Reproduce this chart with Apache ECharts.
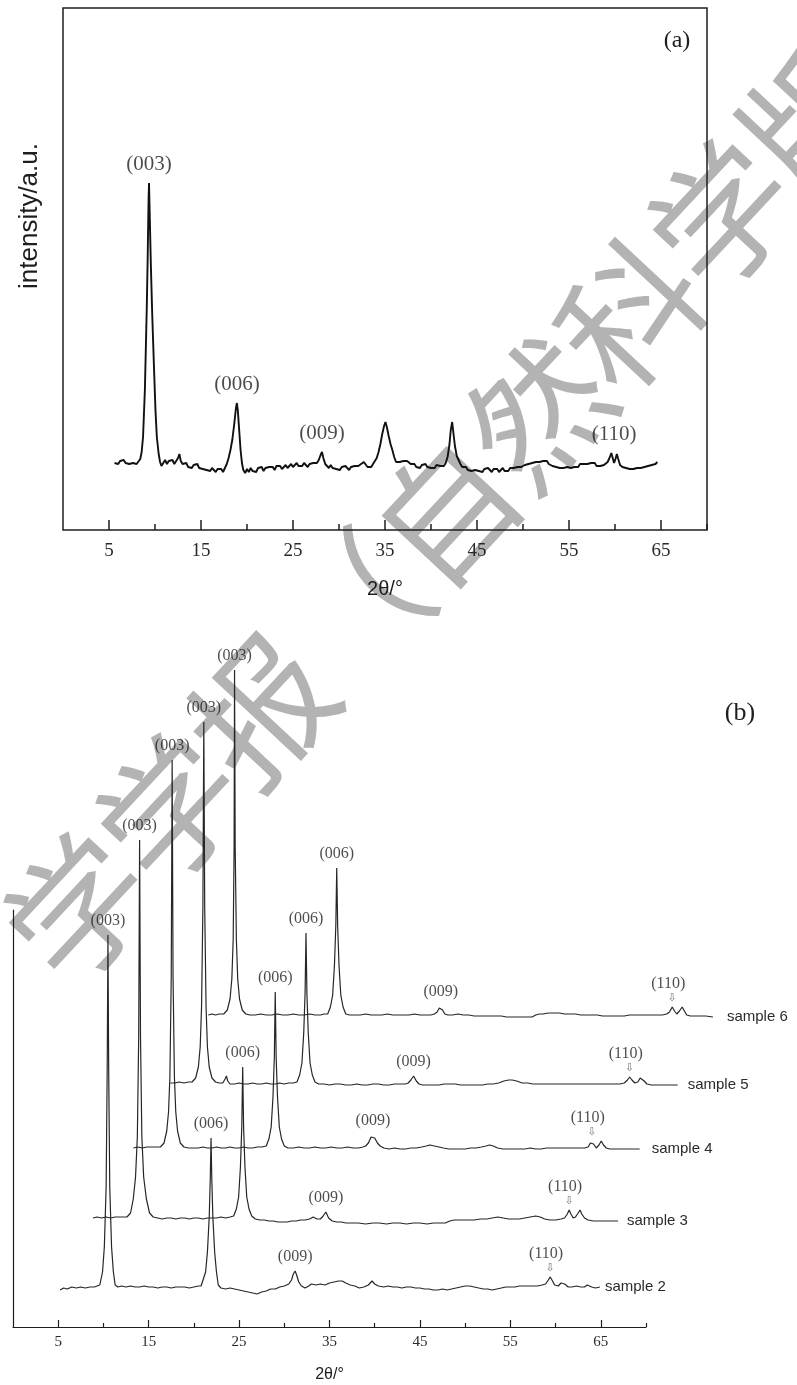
<!DOCTYPE html>
<html><head><meta charset="utf-8">
<script src="https://cdn.jsdelivr.net/npm/echarts@6/dist/echarts.min.js"></script>
<style>html,body{margin:0;padding:0;background:#fff}#c{width:797px;height:1385px}</style>
</head><body><div id="c"></div>
<script>
// ---------- tick labels ----------
const xTicksMajor = [5, 15, 25, 35, 45, 55, 65];
const xTicksMinor = [10, 20, 30, 40, 50, 60, 70];

// ---------- panel (a): single pattern [2θ, intensity a.u.] ----------
const patternA = [
[5.6,67],[5.8,69],[6.0,66],[6.2,69],[6.4,68],[6.6,70],[6.8,67],[7.0,69],[7.2,66],[7.4,68],[7.6,67],[7.8,69],[8.0,66],[8.2,68],[8.4,71],
[8.55,78],[8.7,93],[8.9,140],[9.1,220],[9.2,270],[9.3,330],[9.35,347],[9.42,318],[9.55,265],[9.7,215],[9.9,160],[10.05,120],[10.2,93],[10.4,76],[10.55,68],[10.7,64],
[10.9,67],[11.1,70],[11.3,66],[11.5,69],[11.7,67],[11.9,70],[12.1,66],[12.3,68],[12.5,72],[12.65,76],[12.8,69],[13.0,66],[13.2,64],[13.4,67],[13.6,63],[13.8,65],[14.0,62],[14.2,65],[14.4,63],[14.6,66],[14.8,62],[15.0,64],[15.2,61],[15.4,63],[15.6,60],[15.8,62],[16.0,59],[16.2,62],[16.4,60],[16.6,58],[16.8,61],[17.0,59],[17.2,61],[17.4,58],[17.6,62],[17.8,66],
[18.0,72],[18.2,80],[18.4,90],[18.6,105],[18.8,122],[18.9,127],[19.0,120],[19.15,100],[19.3,80],[19.45,67],[19.6,60],
[19.8,57],[20.0,61],[20.2,58],[20.4,62],[20.6,59],[20.8,61],[21.0,58],[21.2,62],[21.4,60],[21.6,63],[21.8,59],[22.0,62],[22.2,60],[22.4,63],[22.6,61],[22.8,63],[23.0,60],[23.2,64],[23.4,62],[23.6,64],[23.8,61],[24.0,63],[24.2,65],[24.4,62],[24.6,64],[24.8,66],[25.0,63],[25.2,65],[25.4,67],[25.6,64],[25.8,66],[26.0,64],[26.2,67],[26.4,65],[26.6,63],[26.8,66],[27.0,64],[27.2,67],[27.4,65],[27.6,67],[27.8,70],[28.0,75],[28.15,78],[28.3,72],[28.5,66],
[28.7,64],[28.9,62],[29.1,65],[29.3,62],[29.5,64],[29.7,61],[29.9,63],[30.1,60],[30.3,63],[30.5,61],[30.7,64],[30.9,62],[31.1,60],[31.3,63],[31.5,61],[31.7,64],[31.9,62],[32.1,64],[32.4,66],[32.7,68],[32.9,66],[33.1,63],[33.3,65],[33.5,63],[33.7,66],[33.9,68],[34.1,72],[34.3,78],[34.5,86],[34.7,96],[34.9,104],[35.05,108],[35.2,103],[35.4,94],[35.6,86],[35.8,80],[36.0,73],[36.2,68],
[36.4,66],[36.6,68],[36.8,66],[37.0,69],[37.2,67],[37.4,69],[37.6,68],[37.8,66],[38.0,64],[38.2,66],[38.4,63],[38.6,65],[38.8,62],[39.0,65],[39.2,63],[39.4,66],[39.6,63],[39.8,65],[40.0,62],[40.2,64],[40.4,62],[40.6,65],[40.8,63],[41.0,64],[41.2,62],[41.4,64],[41.6,67],[41.8,73],[42.0,85],[42.15,100],[42.3,108],[42.45,96],[42.6,84],[42.8,74],[43.0,70],[43.2,66],
[43.4,63],[43.6,61],[43.8,63],[44.0,60],[44.2,62],[44.4,59],[44.6,61],[44.8,60],[45.0,62],[45.2,59],[45.4,61],[45.6,58],[45.8,61],[46.0,59],[46.2,62],[46.4,60],[46.6,58],[46.8,61],[47.0,59],[47.2,61],[47.4,58],[47.6,60],[47.8,62],[48.0,59],[48.2,61],[48.4,59],[48.6,62],[48.8,60],[49.0,62],[49.2,60],[49.4,63],[49.6,61],[49.8,63],[50.0,62],[50.2,65],[50.4,63],[50.6,66],[50.8,64],[51.0,67],[51.2,65],[51.4,68],[51.6,66],[51.8,68],[52.0,66],[52.2,69],[52.4,67],[52.6,69],[52.8,66],[53.0,67],[53.2,64],[53.4,66],[53.6,63],[53.8,65],[54.0,62],[54.2,64],[54.4,62],[54.6,64],[54.8,63],[55.0,65],[55.2,62],[55.4,64],[55.6,63],[55.8,65],[56.0,63],[56.2,66],[56.4,64],[56.6,66],[56.8,64],[57.0,66],[57.2,64],[57.4,67],[57.6,65],[57.8,67],[58.0,64],[58.2,66],[58.4,64],[58.6,66],[58.8,65],[59.0,67],[59.2,68],[59.4,72],[59.6,77],[59.75,72],[59.9,67],[60.05,71],[60.2,76],[60.35,71],[60.55,65],
[60.8,63],[61.0,65],[61.2,62],[61.4,64],[61.6,61],[61.8,63],[62.0,61],[62.2,63],[62.4,62],[62.6,64],[62.8,62],[63.0,64],[63.2,63],[63.4,65],[63.6,64],[63.8,66],[64.0,65],[64.2,67],[64.4,66],[64.6,68]
];
const annotationsA = [[9.35,'(003)'],[18.9,'(006)'],[28.15,'(009)'],[59.9,'(110)']];

// ---------- panel (b): stacked patterns (plotted 2θ, offset intensity) ----------
const sampleNames = ['sample 2','sample 3','sample 4','sample 5','sample 6'];
const sample2 = [
[5.2,37],[5.6,39],[6.0,38],[6.5,40],[7.0,39],[7.5,40],[8.0,39],[8.5,40],[9.0,40],[9.3,41],
[9.6,42],[9.9,55],[10.1,80],[10.3,140],[10.42,260],[10.5,392],[10.58,260],[10.7,140],[10.9,80],[11.1,55],[11.3,42],
[11.6,40],[12.0,41],[12.5,40],[13.0,41],[13.5,40],[14.0,40],[14.5,41],[15.0,40],[15.5,40],[16.0,39],[16.5,40],[17.0,40],[17.5,39],[18.0,40],[18.5,40],[19.0,40],[19.5,39],[20.0,40],[20.5,41],[20.8,41],
[21.0,42],[21.3,55],[21.5,75],[21.7,110],[21.82,150],[21.9,189],[21.98,150],[22.1,110],[22.3,75],[22.5,55],[22.7,42],
[23.0,39],[23.5,38],[24.0,39],[24.5,38],[25.0,37],[25.5,36],[26.0,35],[26.5,34],[27.0,33],[27.5,35],[28.0,36],[28.5,38],[29.0,38],[29.5,40],[30.0,41],[30.5,43],[30.8,47],[31.0,53],[31.2,56],[31.4,51],[31.6,45],[31.9,41],[32.3,39],[32.7,41],[33.0,43],[33.5,42],[34.0,43],[34.5,42],[35.0,44],[35.5,45],[36.0,46],[36.4,46],[36.8,44],[37.3,42],[37.8,41],[38.3,39],[38.8,40],[39.3,42],[39.7,46],[40.0,43],[40.4,41],[41.0,40],[41.5,41],[42.0,40],[42.5,40],[43.0,39],[43.5,40],[44.0,40],[44.5,39],[45.0,39],[45.5,38],[46.0,38],[46.5,37],[47.0,37],[47.5,38],[48.0,37],[48.5,38],[49.0,39],[49.5,40],[50.0,41],[50.5,41],[51.0,40],[51.5,39],[52.0,38],[52.5,38],[53.0,37],[53.5,38],[54.0,39],[54.5,40],[55.0,40],[55.5,40],[56.0,41],[56.5,41],[57.0,41],[57.5,41],[58.0,41],[58.5,42],[58.9,43],[59.2,47],[59.4,50],[59.6,47],[59.9,42],[60.3,41],[60.6,44],[60.8,46],[61.0,43],[61.4,40],[61.8,40],[62.3,41],[62.8,40],[63.2,40],[63.5,42],[63.7,43],[64.0,40],[64.4,39],[64.9,40]
];
const sample3 = [
[8.85,109],[9.3,110],[9.8,109],[10.3,110],[10.8,109],[11.3,110],[11.8,110],[12.2,110],
[12.6,110],[13.0,114],[13.3,128],[13.55,150],[13.75,190],[13.9,290],[14.0,487],[14.1,290],[14.25,190],[14.45,150],[14.75,128],[15.1,114],[15.5,110],
[16.0,109],[16.5,108],[17.0,109],[17.5,109],[18.0,108],[18.5,109],[19.0,109],[19.5,108],[20.0,109],[20.5,109],[21.0,108],[21.5,109],[22.0,109],[22.5,109],[23.0,110],[23.5,109],[24.0,110],
[24.4,111],[24.7,118],[24.95,130],[25.15,160],[25.3,200],[25.4,260],[25.5,200],[25.65,160],[25.85,130],[26.1,118],[26.4,111],
[26.8,108],[27.3,107],[27.8,107],[28.3,106],[28.8,106],[29.3,105],[29.8,105],[30.3,105],[30.8,106],[31.3,106],[31.8,107],[32.3,107],[32.8,108],[33.2,110],[33.6,108],[34.0,108],[34.3,111],[34.6,115],[34.9,109],[35.3,106],[35.8,105],[36.3,105],[36.8,104],[37.5,104],[38.2,104],[39.0,103],[39.8,104],[40.5,104],[41.3,103],[42.0,104],[42.8,104],[43.5,103],[44.3,104],[45.0,104],[45.8,103],[46.5,104],[47.2,104],[47.8,104],[48.3,106],[48.8,107],[49.5,107],[50.2,107],[51.0,107],[51.7,108],[52.4,108],[53.0,109],[53.6,110],[54.2,109],[54.8,108],[55.4,108],[56.0,108],[56.6,109],[57.2,110],[57.8,111],[58.3,110],[58.8,108],[59.4,107],[60.0,107],[60.6,108],[61.0,109],[61.3,113],[61.5,117],[61.7,113],[61.95,109],[62.2,110],[62.5,114],[62.7,117],[62.9,113],[63.2,109],[63.6,107],[64.2,106],[64.8,106],[65.5,106],[66.2,106],[66.9,106]
];
const sample4 = [
[13.3,179],[13.8,180],[14.3,179],[14.8,180],[15.3,180],[15.8,180],
[16.3,180],[16.7,184],[17.0,196],[17.2,215],[17.35,250],[17.5,350],[17.6,567],[17.7,350],[17.85,250],[18.0,215],[18.2,196],[18.5,184],[18.9,180],
[19.4,179],[20.0,179],[20.5,179],[21.0,180],[21.5,179],[22.0,179],[22.5,180],[23.0,179],[23.5,179],[24.0,180],[24.5,179],[25.0,179],[25.5,180],[26.0,179],[26.5,179],[27.0,180],[27.5,180],
[28.0,181],[28.3,188],[28.55,200],[28.75,230],[28.9,270],[29.0,335],[29.1,270],[29.25,230],[29.45,200],[29.7,188],[30.0,181],
[30.4,179],[31.0,179],[31.6,180],[32.2,179],[32.8,179],[33.4,180],[34.0,179],[34.6,179],[35.2,180],[35.8,179],[36.4,179],[37.0,180],[37.6,179],[38.2,179],[38.7,180],
[39.0,181],[39.3,184],[39.6,190],[39.8,192],[40.0,189],[40.3,184],[40.6,181],[41.0,179],
[41.6,178],[42.2,179],[42.8,178],[43.4,178],[44.0,179],[44.6,179],[45.2,180],[45.7,181],[46.1,182],[46.6,181],[47.1,180],[47.6,179],[48.2,178],[48.8,178],[49.4,178],[50.0,178],[50.6,179],[51.2,179],[51.8,180],[52.3,181],[52.7,182],[53.1,181],[53.6,179],[54.2,178],[54.8,178],[55.4,178],[56.0,178],[56.6,178],[57.2,179],[57.8,178],[58.4,178],[59.0,179],[59.6,179],[60.2,179],[60.8,179],[61.4,179],[62.0,179],[62.6,179],[63.2,179],[63.6,180],[63.85,184],[64.0,186],[64.2,183],[64.5,179],[64.8,182],[65.05,186],[65.3,182],[65.6,179],[66.0,178],[66.6,178],[67.2,178],[67.8,178],[68.5,178],[69.3,178]
];
const sample5 = [
[17.4,244],[17.9,244],[18.4,245],[18.9,244],[19.4,245],
[19.8,245],[20.2,249],[20.5,260],[20.7,280],[20.85,320],[21.0,420],[21.1,605],[21.2,420],[21.35,320],[21.5,280],[21.7,260],[22.0,249],[22.4,245],
[22.8,244],[23.2,244],[23.45,248],[23.6,251],[23.75,246],[24.0,243],[24.5,243],[25.0,244],[25.5,243],[26.0,243],[26.5,244],[27.0,243],[27.5,243],[28.0,244],[28.5,243],[29.0,243],[29.5,244],[30.0,243],[30.5,244],[31.0,244],
[31.4,245],[31.7,252],[31.95,264],[32.15,294],[32.3,334],[32.4,394],[32.5,334],[32.65,294],[32.85,264],[33.1,252],[33.4,245],
[33.8,243],[34.4,243],[35.0,242],[35.6,243],[36.2,243],[36.8,242],[37.4,242],[38.0,243],[38.6,242],[39.2,242],[39.8,243],[40.4,243],[41.0,242],[41.6,242],[42.2,243],[42.8,243],[43.4,243],
[43.7,244],[44.0,247],[44.3,251],[44.6,246],[44.9,243],
[45.3,242],[45.9,242],[46.5,242],[47.1,242],[47.7,243],[48.3,243],[48.9,243],[49.5,242],[50.1,242],[50.7,242],[51.3,242],[51.9,242],[52.5,243],[53.1,243],[53.7,244],[54.3,246],[54.8,247],[55.2,247],[55.7,246],[56.3,244],[56.9,244],[57.5,243],[58.1,243],[58.7,243],[59.3,243],[59.9,243],[60.5,243],[61.1,243],[61.7,243],[62.3,243],[62.9,243],[63.5,243],[64.1,243],[64.7,243],[65.3,243],[65.9,243],[66.5,243],[67.1,243],[67.6,244],[67.95,247],[68.2,250],[68.45,247],[68.75,244],[69.1,245],[69.35,249],[69.55,250],[69.8,246],[70.1,243],[70.6,242],[71.2,242],[71.8,242],[72.4,242],[73.0,242],[73.5,242]
];
const sample6 = [
[21.6,312],[22.0,313],[22.4,312],[22.8,313],
[23.3,313],[23.7,317],[24.0,328],[24.2,348],[24.35,388],[24.45,480],[24.5,657],[24.57,480],[24.7,388],[24.85,348],[25.05,328],[25.35,317],[25.75,313],
[26.2,312],[26.8,312],[27.4,313],[28.0,312],[28.6,312],[29.2,313],[29.8,312],[30.4,312],[31.0,313],[31.6,312],[32.2,312],[32.8,313],[33.4,312],[34.0,312],[34.4,313],
[34.8,313],[35.1,320],[35.35,332],[35.55,362],[35.7,402],[35.8,459],[35.9,402],[36.05,362],[36.25,332],[36.5,320],[36.8,313],
[37.2,312],[37.8,312],[38.4,312],[39.0,313],[39.6,312],[40.2,312],[40.8,312],[41.4,313],[42.0,312],[42.6,312],[43.2,312],[43.8,312],[44.4,313],[45.0,312],[45.6,312],[46.2,312],
[46.6,313],[46.9,315],[47.15,319],[47.3,321],[47.5,317],[47.75,313],[48.1,312],
[48.6,312],[49.2,313],[49.8,312],[50.4,312],[51.0,311],[51.6,311],[52.2,311],[52.8,311],[53.4,311],[54.0,311],[54.6,310],[55.2,310],[55.8,310],[56.4,310],[57.0,310],[57.4,310],[57.8,312],[58.2,313],[58.6,313],[59.2,314],[59.8,314],[60.4,314],[61.0,313],[61.6,313],[62.2,313],[62.8,312],[63.4,312],[64.0,312],[64.6,312],[65.2,311],[65.8,311],[66.4,311],[67.0,311],[67.6,311],[68.2,312],[68.8,312],[69.4,312],[70.0,312],[70.6,312],[71.2,312],[71.8,312],[72.3,313],[72.6,315],[72.9,320],[73.15,316],[73.4,313],[73.7,316],[74.0,320],[74.25,316],[74.5,312],[74.9,311],[75.4,311],[76.0,311],[76.6,311],[77.4,310]
];
const samplesB = [sample2, sample3, sample4, sample5, sample6];
// peak positions (plotted 2θ) per sample: (003), (006), (009), (110)
const peaks003 = [10.5, 14.0, 17.6, 21.1, 24.5];
const peaks006 = [21.9, 25.4, 29.0, 32.4, 35.8];
const peaks009 = [31.2, 34.6, 39.8, 44.3, 47.3];
const peaks110 = [59.4, 61.5, 64.0, 68.2, 72.9];

// watermark text (journal name)
const watermarkChars = ['学','学','报','（','自','然','科','学','版'];

// ---------- helpers ----------
function topAt(data, x) {
  let best = -Infinity;
  for (const p of data) if (Math.abs(p[0] - x) <= 0.36 && p[1] > best) best = p[1];
  return best;
}
const serif = 'Liberation Serif', sans = 'Liberation Sans';
const ink = '#1e1e1e';

const labelsA = annotationsA.map(([x, t]) => [x, topAt(patternA, x), t]);
const labelsB = [], labels110 = [];
samplesB.forEach((d, i) => {
  [[peaks003[i], '(003)'], [peaks006[i], '(006)'], [peaks009[i], '(009)']].forEach(([x, t]) => labelsB.push([x, topAt(d, x), t]));
  labels110.push([peaks110[i], topAt(d, peaks110[i]), '(110)']);
});

// ---------- axes ----------
function majorAxis(grid, o) {
  return {
    gridIndex: grid, type: 'value', min: 0, max: 70, position: 'bottom',
    axisLine: { show: o.line, lineStyle: { color: ink, width: o.lw } },
    axisTick: { show: true, inside: true, length: o.major, customValues: xTicksMajor, lineStyle: { color: ink, width: o.lw } },
    axisLabel: { show: true, customValues: xTicksMajor, fontFamily: serif, fontSize: o.fs, color: '#2a2a2a', margin: o.margin },
    splitLine: { show: false },
    name: '2θ/°', nameLocation: 'middle', nameGap: o.gap,
    nameTextStyle: { fontFamily: sans, fontSize: o.nfs, color: ink }
  };
}
function minorAxis(grid, o) {
  return {
    gridIndex: grid, type: 'value', min: 0, max: 70, interval: 10, position: 'bottom',
    axisLine: { show: false },
    axisTick: { show: true, inside: true, length: o.minor, customValues: xTicksMinor, lineStyle: { color: ink, width: o.lw } },
    axisLabel: { show: false }, splitLine: { show: false }
  };
}
const oA = { line: false, lw: 1.5, major: 10, minor: 6, fs: 19, margin: 12, gap: 49, nfs: 20 };
const oB = { line: true, lw: 1.2, major: 7, minor: 4, fs: 15, margin: 8, gap: 40, nfs: 16 };

// panel (b) geometry: visible axis spans 0–70; patterns run past 70, so they sit on a
// wider hidden grid with the identical scale (same px per degree, same origin).
const bLeft = 13, bTop = 910, bWidth = 633, bHeight = 417, bYMax = 417, bXMaxWide = 80;

const series = [
  { type: 'line', name: 'pattern a', xAxisIndex: 0, yAxisIndex: 0, data: patternA, showSymbol: false,
    lineStyle: { color: '#111', width: 1.9 }, silent: true, z: 3 },
  { type: 'scatter', xAxisIndex: 0, yAxisIndex: 0, data: labelsA, symbolSize: 1, itemStyle: { color: 'rgba(0,0,0,0)' },
    label: { show: true, position: 'top', distance: 8, formatter: p => p.value[2], fontFamily: serif, fontSize: 21, color: ink }, silent: true, z: 4 }
];
const endDist = [5, 9, 12, 10, 14];
samplesB.forEach((d, i) => {
  series.push({ type: 'line', name: sampleNames[i], xAxisIndex: 4, yAxisIndex: 2, data: d, showSymbol: false, clip: false,
    lineStyle: { color: '#262626', width: 1.2 }, silent: true, z: 3,
    endLabel: { show: true, formatter: '{a}', distance: endDist[i], fontFamily: sans, fontSize: 15, color: '#2a2a2a' } });
});
series.push({ type: 'scatter', xAxisIndex: 4, yAxisIndex: 2, data: labelsB, symbolSize: 1, clip: false, itemStyle: { color: 'rgba(0,0,0,0)' },
  label: { show: true, position: 'top', distance: 6, formatter: p => p.value[2], fontFamily: serif, fontSize: 16, color: ink }, silent: true, z: 4 });
series.push({ type: 'scatter', xAxisIndex: 4, yAxisIndex: 2, data: labels110, symbolSize: 1, clip: false, itemStyle: { color: 'rgba(0,0,0,0)' },
  label: { show: true, position: 'top', distance: 2, offset: [-4, 0], formatter: p => '{t|' + p.value[2] + '}\n{a|⇩}',
    rich: { t: { fontFamily: serif, fontSize: 16, color: ink, lineHeight: 17, align: 'center' },
            a: { fontFamily: 'DejaVu Sans', fontSize: 11, color: '#555', lineHeight: 12, align: 'center', padding: [0, 0, 0, 8] } } }, silent: true, z: 4 });

// watermark + free texts
const wmStart = [78, 908], wmStep = [92, -99];
const graphics = watermarkChars.map((ch, k) => ({
  type: 'text', x: wmStart[0] + wmStep[0] * k, y: wmStart[1] + wmStep[1] * k, rotation: 47 * Math.PI / 180, z: -10, silent: true,
  style: { text: ch, fontFamily: 'Noto Sans CJK SC', fontSize: 138, fontWeight: 'normal', fill: 'rgba(150,150,150,0.72)', textAlign: 'center', textVerticalAlign: 'middle' }
}));
graphics.push({ type: 'text', x: 30, y: 216, rotation: Math.PI / 2, z: 5, style: { text: 'intensity/a.u.', fontFamily: sans, fontSize: 26, fill: ink, textAlign: 'center', textVerticalAlign: 'middle' } });
graphics.push({ type: 'text', x: 677, y: 41, z: 5, style: { text: '(a)', fontFamily: serif, fontSize: 24, fill: ink, textAlign: 'center', textVerticalAlign: 'middle' } });
graphics.push({ type: 'text', x: 740, y: 713, z: 5, style: { text: '(b)', fontFamily: serif, fontSize: 26, fill: ink, textAlign: 'center', textVerticalAlign: 'middle' } });

const chart = echarts.init(document.getElementById('c'), null, { renderer: 'canvas' });
chart.setOption({
  animation: false,
  backgroundColor: '#fff',
  grid: [
    { left: 63, top: 8, width: 644, height: 522, show: true, borderColor: ink, borderWidth: 1.5, backgroundColor: 'rgba(0,0,0,0)' },
    { left: bLeft, top: bTop, width: bWidth, height: bHeight, show: false },
    { left: bLeft, top: bTop, width: bWidth * bXMaxWide / 70, height: bHeight, show: false }
  ],
  xAxis: [majorAxis(0, oA), minorAxis(0, oA), majorAxis(1, oB), minorAxis(1, oB),
    { gridIndex: 2, type: 'value', min: 0, max: bXMaxWide, show: false }],
  yAxis: [
    { gridIndex: 0, type: 'value', min: 0, max: 522, show: false },
    { gridIndex: 1, type: 'value', min: 0, max: bYMax, axisLine: { show: true, lineStyle: { color: ink, width: 1.2 } },
      axisTick: { show: false }, axisLabel: { show: false }, splitLine: { show: false } },
    { gridIndex: 2, type: 'value', min: 0, max: bYMax, show: false }
  ],
  graphic: { elements: graphics },
  series: series
});
</script></body></html>
